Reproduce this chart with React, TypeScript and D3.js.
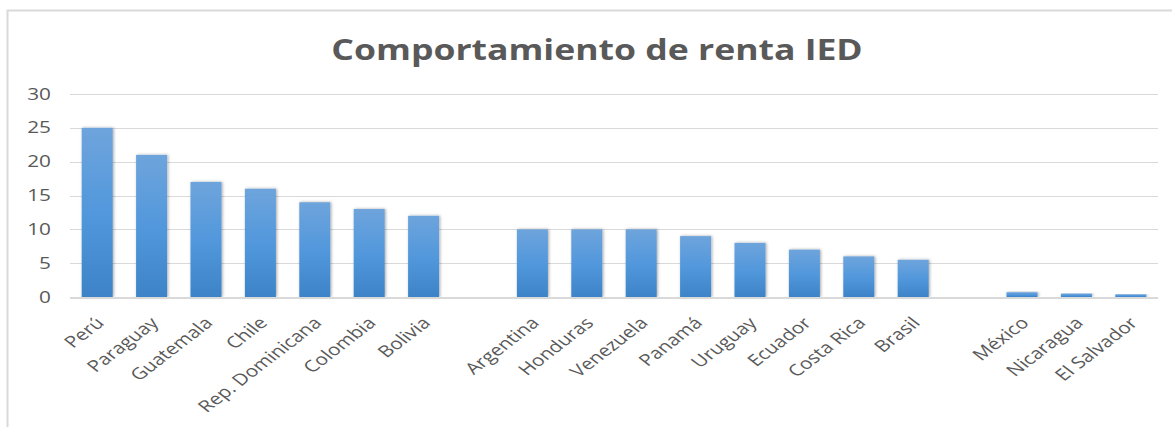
import * as d3 from "d3";
import React from "react";

// slots "" are the empty gaps between groups
const categories = [
  "Perú", "Paraguay", "Guatemala", "Chile", "Rep. Dominicana", "Colombia", "Bolivia", "",
  "Argentina", "Honduras", "Venezuela", "Panamá", "Uruguay", "Ecuador", "Costa Rica", "Brasil", " ",
  "México", "Nicaragua", "El Salvador",
];
const values = [25, 21, 17, 16, 14, 13, 12, null, 10, 10, 10, 9, 8, 7, 6, 5.5, null, 0.7, 0.5, 0.4];
const yTicks = [0, 5, 10, 15, 20, 25, 30];
const title = "Comportamiento de renta IED";

const W = 1172;
const H = 427;
const margin = { top: 94, right: 14, bottom: 130, left: 70 };
// the source picture is stretched sideways, text too
const stretch = 1.3;

export default function App() {
  const x = d3
    .scaleBand()
    .domain(categories)
    .range([margin.left, W - margin.right])
    .paddingInner(0.43)
    .paddingOuter(0.215);
  const y = d3.scaleLinear().domain([0, 30]).range([H - margin.bottom, margin.top]);
  const font = "'Open Sans', 'DejaVu Sans', sans-serif";
  const grey = "#595959";

  return (
    <div style={{ position: "absolute", left: 0, top: 0 }}>
      <svg width={W} height={H} style={{ display: "block", background: "#fff" }}>
        <defs>
          <linearGradient id="barFill" x1="0" y1="0" x2="0" y2="1">
            <stop offset="0%" stopColor="#6ea4dc" />
            <stop offset="50%" stopColor="#5298dc" />
            <stop offset="100%" stopColor="#3d83c8" />
          </linearGradient>
          <filter id="shadow" x="-30%" y="-10%" width="160%" height="120%">
            <feDropShadow dx="1" dy="0" stdDeviation="1.5" floodColor="#000" floodOpacity="0.35" />
          </filter>
        </defs>
        {/* chart frame, clipped at right and bottom */}
        <path d={`M7.5,${H}V10.5H${W}`} fill="none" stroke="#d9d9d9" strokeWidth={2} />
        <text
          transform={`translate(597,60) scale(${stretch - 0.03},1)`}
          textAnchor="middle"
          fontFamily={font}
          fontWeight="bold"
          fontSize={28}
          fill={grey}
        >
          {title}
        </text>
        {/* gridlines + y labels */}
        {yTicks.map((t) => (
          <g key={t}>
            {t > 0 && (
              <line
                x1={margin.left}
                x2={W - margin.right}
                y1={Math.round(y(t)) + 0.5}
                y2={Math.round(y(t)) + 0.5}
                stroke="#d9d9d9"
              />
            )}
            <text
              transform={`translate(51,${y(t)}) scale(${stretch},1)`}
              dy="0.35em"
              textAnchor="end"
              fontFamily={font}
              fontSize={16}
              fill={grey}
            >
              {t}
            </text>
          </g>
        ))}
        {/* bars */}
        {categories.map((c, i) =>
          values[i] == null ? null : (
            <rect
              key={c}
              x={x(c)}
              y={y(values[i] as number)}
              width={x.bandwidth()}
              height={y(0) - y(values[i] as number)}
              fill="url(#barFill)"
              filter="url(#shadow)"
            />
          )
        )}
        {/* baseline */}
        <line
          x1={margin.left}
          x2={W - margin.right}
          y1={y(0) + 1}
          y2={y(0) + 1}
          stroke="#d9d9d9"
          strokeWidth={2}
        />
        {/* category labels */}
        {categories.map((c) =>
          c.trim() === "" ? null : (
            <text
              key={c}
              transform={`translate(${(x(c) as number) + x.bandwidth() / 2 + 8},${y(0) + 27}) scale(${stretch},1) rotate(-45)`}
              textAnchor="end"
              fontFamily={font}
              fontSize={16}
              fill={grey}
            >
              {c}
            </text>
          )
        )}
      </svg>
    </div>
  );
}
